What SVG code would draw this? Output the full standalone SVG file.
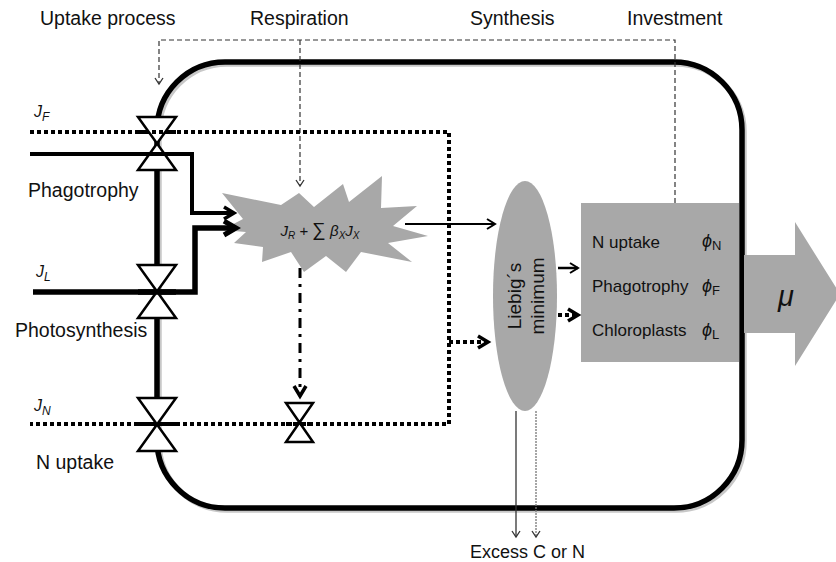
<svg xmlns="http://www.w3.org/2000/svg" width="836" height="562" viewBox="0 0 836 562">
<defs>
<style>
text{font-family:"Liberation Sans","Noto Sans",sans-serif;fill:#111}
.lbl{font-size:19.5px}
.it{font-style:italic}
.valve{fill:#fff;stroke:#000;stroke-width:2.5;stroke-linejoin:miter}
.dot{fill:none;stroke:#000;stroke-width:4;stroke-dasharray:4 3}
.dash{fill:none;stroke:#333;stroke-width:1.2;stroke-dasharray:5 3}
.gray{fill:#a8a8a8}
</style>
<marker id="ah" markerUnits="userSpaceOnUse" markerWidth="14" markerHeight="14" refX="10" refY="6" orient="auto"><path d="M2,1 L10,6 L2,11" fill="none" stroke="#000" stroke-width="2"/></marker>
<marker id="ahs" markerUnits="userSpaceOnUse" markerWidth="12" markerHeight="12" refX="8" refY="5" orient="auto"><path d="M2,1 L8,5 L2,9" fill="none" stroke="#333" stroke-width="1.3"/></marker>
<marker id="ahb" markerUnits="userSpaceOnUse" markerWidth="18" markerHeight="18" refX="12" refY="8" orient="auto"><path d="M2,2 L12,8 L2,14" fill="none" stroke="#000" stroke-width="3.5"/></marker>
<marker id="ahx" markerUnits="userSpaceOnUse" markerWidth="20" markerHeight="20" refX="14" refY="9" orient="auto"><path d="M2,2 L14,9 L2,16" fill="none" stroke="#000" stroke-width="5"/></marker>
</defs>
<rect width="836" height="562" fill="#fff"/>

<g id="headers">
<text class="lbl" x="40" y="25">Uptake process</text>
<text class="lbl" x="250" y="25">Respiration</text>
<text class="lbl" x="470" y="25">Synthesis</text>
<text class="lbl" x="627" y="25">Investment</text>
</g>

<g id="cell">
<rect x="159" y="64" width="585" height="446" rx="68" ry="68" fill="none" stroke="#c8c8c8" stroke-width="5.5"/>
<rect x="157" y="62" width="585" height="446" rx="68" ry="68" fill="none" stroke="#000" stroke-width="5.5"/>
</g>

<g id="growth">
<path class="gray" d="M744,255 H795 V222 L840,294 L795,366 V333 H744 Z"/>
<text x="778" y="306" font-size="29" class="it" font-family="Liberation Serif,serif">μ</text>
</g>

<g id="investment-box">
<rect class="gray" x="581" y="203" width="158" height="159"/>
<text x="592" y="248" font-size="17">N uptake</text>
<text x="592" y="292" font-size="17">Phagotrophy</text>
<text x="592" y="336" font-size="17">Chloroplasts</text>
<text x="702" y="247" font-size="18" class="it">ϕ<tspan font-size="13" font-style="normal" dy="3">N</tspan></text>
<text x="702" y="292" font-size="18" class="it">ϕ<tspan font-size="13" font-style="normal" dy="3">F</tspan></text>
<text x="702" y="336" font-size="18" class="it">ϕ<tspan font-size="13" font-style="normal" dy="3">L</tspan></text>
</g>

<g id="liebig">
<ellipse class="gray" cx="525" cy="296" rx="32" ry="115"/>
<text transform="translate(527,296) rotate(-90)" text-anchor="middle" font-size="19"><tspan x="0" y="-6">Liebig´s</tspan><tspan x="0" y="17">minimum</tspan></text>
</g>

<g id="respiration">
<polygon class="gray" points="222,193 281,205 299,193 314,207 343,184 349,202 382,176 381,208 417,206 393,226 428,236 388,243 412,262 361,252 346,272 326,256 304,272 291,252 262,262 263,247 234,243 246,232 222,230 243,219"/>
<text x="320" y="236" font-size="15" text-anchor="middle" class="it">J<tspan font-size="10" dy="3">R</tspan><tspan dy="-3" font-style="normal"> + </tspan><tspan font-style="normal" font-size="19">∑</tspan><tspan font-style="normal"> </tspan>β<tspan font-size="10" dy="3">X</tspan><tspan dy="-3">J</tspan><tspan font-size="10" dy="3">X</tspan></text>
</g>

<g id="connectors">
<path class="dash" d="M675,203 V40 H159 V84" marker-end="url(#ahs)"/>
<path class="dash" d="M300,40 V186" marker-end="url(#ahs)"/>
<path class="dot" d="M30,132 H449 V424 H30"/>
<path class="dot" d="M449,342 H488" marker-end="url(#ahb)"/>
<path class="dot" d="M558,315 H578" marker-end="url(#ahb)"/>
<path d="M30,154 H192 V213 H234" fill="none" stroke="#000" stroke-width="4" marker-end="url(#ahb)"/>
<path d="M33,292 H195 V228 H236" fill="none" stroke="#000" stroke-width="5.5" marker-end="url(#ahx)"/>
<path d="M405,224 H495" fill="none" stroke="#000" stroke-width="2" marker-end="url(#ah)"/>
<path d="M558,268 H578" fill="none" stroke="#000" stroke-width="2.5" marker-end="url(#ah)"/>
<path d="M300,268 V396" fill="none" stroke="#000" stroke-width="3" stroke-dasharray="10 6 3 6" marker-end="url(#ahb)"/>
<path d="M516,411 V537" fill="none" stroke="#333" stroke-width="1.3" marker-end="url(#ahs)"/>
<path d="M536,411 V537" fill="none" stroke="#777" stroke-width="1.3" stroke-dasharray="2 1" marker-end="url(#ahs)"/>
</g>

<g id="valve-F">
<path class="valve" d="M138,117 H176 L138,170 H176 Z"/>
</g>
<g id="valve-L">
<path class="valve" d="M138,265 H176 L138,318 H176 Z"/>
</g>
<g id="valve-N">
<path class="valve" d="M138,398 H176 L138,451 H176 Z"/>
</g>
<g id="valve-internal">
<path class="valve" d="M286,403 H313 L286,442 H313 Z"/>
</g>
<g id="flux-over">
<path class="dot" d="M138,132 H176"/>
<path d="M138,154 H176" stroke="#000" stroke-width="4"/>
<path d="M138,292 H176" stroke="#000" stroke-width="5.5"/>
<path class="dot" d="M138,424 H176"/>
<path class="dot" d="M286,424 H313"/>
</g>

<g id="labels">
<text x="34" y="117" font-size="16" class="it">J<tspan font-size="12" dy="4">F</tspan></text>
<text x="36" y="277" font-size="16" class="it">J<tspan font-size="12" dy="4">L</tspan></text>
<text x="34" y="411" font-size="16" class="it">J<tspan font-size="12" dy="4">N</tspan></text>
<text class="lbl" x="28" y="197">Phagotrophy</text>
<text class="lbl" x="15" y="337">Photosynthesis</text>
<text class="lbl" x="36" y="469">N uptake</text>
<text x="470" y="558" font-size="18">Excess C or N</text>
</g>
</svg>
